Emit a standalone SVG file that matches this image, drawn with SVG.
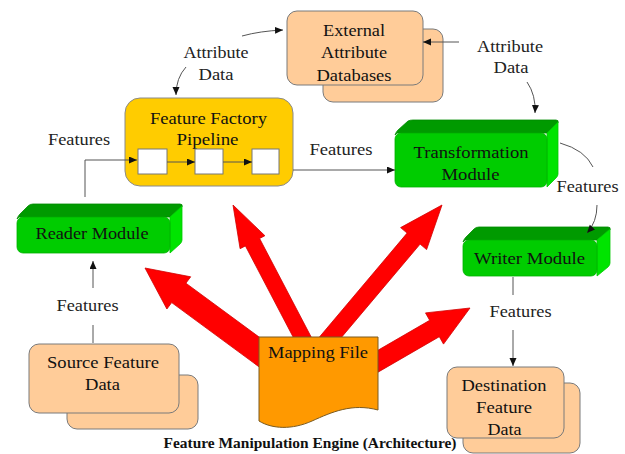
<svg xmlns="http://www.w3.org/2000/svg" width="625" height="454" viewBox="0 0 625 454" font-family="'Liberation Serif', 'Times New Roman', Times, serif">
<style>
.t{font-size:16px;fill:#111;text-anchor:middle}
.l{font-size:16px;fill:#222;text-anchor:middle}
.c{fill:none;stroke:#555;stroke-width:1}
.ca{fill:none;stroke:#555;stroke-width:1;marker-end:url(#ah)}
.red{fill:#FF0000;stroke:#D00000;stroke-width:0.8;stroke-linejoin:miter}
.peach{fill:#FFCC99;stroke:#7a7a7a;stroke-width:1}
.front{fill:#00CC00;stroke:#00B000;stroke-width:0.8}
.top{fill:#009A00;stroke:#008A00;stroke-width:0.8}
.side{fill:#00E400;stroke:#00C800;stroke-width:0.8}
.small{fill:#fff;stroke:#777;stroke-width:1}
</style>
<defs>
<marker id="ah" markerUnits="userSpaceOnUse" markerWidth="9" markerHeight="8" refX="8" refY="3.5" orient="auto">
<path d="M0,0 L8,3.5 L0,7 z" fill="#111"/>
</marker>
</defs>
<rect width="625" height="454" fill="#fff"/>

<g id="mapping-arrows">
<polygon class="red" points="277.1,350.3 185.9,283.2 190.7,276.8 145,268 166.9,309 171.7,302.6 262.9,369.7"/>
<polygon class="red" points="317.1,348.3 259.6,238.5 264.9,235.7 233,205 240.1,248.7 245.4,245.9 302.9,355.7"/>
<polygon class="red" points="329.5,351.5 420.1,244.1 426.6,249.6 442,205 400.6,227.6 407.1,233.1 316.5,340.5"/>
<polygon class="red" points="372.8,375.2 439.3,336.7 443.5,344.1 470,308 425.5,312.9 429.7,320.3 363.2,358.8"/>
</g>

<g id="external-attribute-databases">
<rect class="peach" x="323" y="29" width="120" height="73" rx="10"/>
<rect class="peach" x="287" y="11" width="136" height="74" rx="10"/>
<text class="t" x="354" y="36" textLength="62" lengthAdjust="spacingAndGlyphs">External</text>
<text class="t" x="354" y="58" textLength="66" lengthAdjust="spacingAndGlyphs">Attribute</text>
<text class="t" x="354" y="81" textLength="75" lengthAdjust="spacingAndGlyphs">Databases</text>
</g>

<g id="label-attr-left">
<text class="l" x="216" y="58" textLength="65" lengthAdjust="spacingAndGlyphs">Attribute</text>
<text class="l" x="216" y="80" textLength="35" lengthAdjust="spacingAndGlyphs">Data</text>
</g>
<g id="label-attr-right">
<text class="l" x="510" y="52" textLength="66" lengthAdjust="spacingAndGlyphs">Attribute</text>
<text class="l" x="511" y="73" textLength="35" lengthAdjust="spacingAndGlyphs">Data</text>
</g>

<g id="feature-factory-pipeline">
<rect x="125" y="98" width="168" height="88" rx="15" fill="#FFCC00" stroke="#8a8a8a" stroke-width="1"/>
<text class="t" x="208.5" y="124" textLength="117" lengthAdjust="spacingAndGlyphs">Feature Factory</text>
<text class="t" x="207.5" y="145" textLength="62" lengthAdjust="spacingAndGlyphs">Pipeline</text>
<rect class="small" x="138" y="149" width="29" height="25"/>
<rect class="small" x="195" y="149" width="28" height="25"/>
<rect class="small" x="252" y="149" width="27" height="25"/>
</g>

<g id="label-features-1"><text class="l" x="79" y="145" textLength="62" lengthAdjust="spacingAndGlyphs">Features</text></g>
<g id="label-features-2"><text class="l" x="341" y="155" textLength="63" lengthAdjust="spacingAndGlyphs">Features</text></g>
<g id="label-features-3"><text class="l" x="587.5" y="192" textLength="62" lengthAdjust="spacingAndGlyphs">Features</text></g>
<g id="label-features-4"><text class="l" x="520.5" y="317" textLength="62" lengthAdjust="spacingAndGlyphs">Features</text></g>
<g id="label-features-5"><text class="l" x="87.5" y="311" textLength="62" lengthAdjust="spacingAndGlyphs">Features</text></g>

<g id="transformation-module">
<path class="top" d="M395,135 Q396,132 398,130 L408,121 Q410,120 413,120 L556,120 Q559,120 558,123 L547,133 L397,133 Z"/>
<path class="side" d="M547,133 L558,122 L558,174 Q558,176 556,178 L547,187 Z"/>
<rect class="front" x="395" y="133" width="152" height="54" rx="6"/>
<text class="t" x="471" y="158" textLength="115" lengthAdjust="spacingAndGlyphs">Transformation</text>
<text class="t" x="470.5" y="180" textLength="58" lengthAdjust="spacingAndGlyphs">Module</text>
</g>

<g id="reader-module">
<path class="top" d="M17,219 Q18,216 20,214 L28,206 Q30,204 33,204 L180,204 Q183,204 182,207 L170,217 L19,217 Z"/>
<path class="side" d="M170,217 L182,206 L182,240 Q182,242 180,244 L170,253 Z"/>
<rect class="front" x="17" y="217" width="153" height="36" rx="6"/>
<text class="t" x="92" y="239" textLength="113" lengthAdjust="spacingAndGlyphs">Reader Module</text>
</g>

<g id="writer-module">
<path class="top" d="M463,242 Q464,239 466,237 L474,229 Q476,227 479,227 L608,227 Q611,227 610,230 L597,240 L465,240 Z"/>
<path class="side" d="M597,240 L610,229 L610,263 Q610,265 608,267 L597,276 Z"/>
<rect class="front" x="463" y="240" width="134" height="36" rx="6"/>
<text class="t" x="529.5" y="264" textLength="111" lengthAdjust="spacingAndGlyphs">Writer Module</text>
</g>

<g id="source-feature-data">
<rect class="peach" x="67" y="375" width="131" height="54" rx="10"/>
<rect class="peach" x="29" y="344" width="150" height="69" rx="10"/>
<text class="t" x="103" y="368" textLength="112" lengthAdjust="spacingAndGlyphs">Source Feature</text>
<text class="t" x="102.5" y="390" textLength="35" lengthAdjust="spacingAndGlyphs">Data</text>
</g>

<g id="destination-feature-data">
<rect class="peach" x="463" y="383" width="117" height="70" rx="10"/>
<rect class="peach" x="447" y="367" width="117" height="71" rx="10"/>
<text class="t" x="504" y="391" textLength="85" lengthAdjust="spacingAndGlyphs">Destination</text>
<text class="t" x="504" y="413" textLength="56" lengthAdjust="spacingAndGlyphs">Feature</text>
<text class="t" x="504.5" y="435" textLength="34" lengthAdjust="spacingAndGlyphs">Data</text>
</g>

<g id="mapping-file">
<path d="M259,337 H378 V410 C352,403 332,412 312,421 C292,430 272,429 259,421 Z" fill="#FF9900" stroke="#7a5a20" stroke-width="1"/>
<text class="t" x="318" y="358" textLength="100" lengthAdjust="spacingAndGlyphs">Mapping File</text>
</g>

<g id="connectors">
<path class="ca" d="M85,197 V160 H137"/>
<path class="ca" d="M167,162 H195"/>
<path class="ca" d="M223,162 H252"/>
<path class="ca" d="M293,170 H395"/>
<path class="ca" d="M186,67 Q176,78 176,95"/>
<path class="ca" d="M242,36 Q260,31 283,30"/>
<path class="ca" d="M459,42 H423"/>
<path class="ca" d="M527,82 Q536,95 535,113"/>
<path class="c" d="M560,143 Q585,150 593,167"/>
<path class="ca" d="M597,205 Q597,222 587,233"/>
<path class="c" d="M93,343 V325"/>
<path class="ca" d="M93,288 V261"/>
<path class="c" d="M513,277 V295"/>
<path class="ca" d="M513,330 V366"/>
</g>

<g id="caption">
<text class="t" x="310" y="448" textLength="293" lengthAdjust="spacingAndGlyphs" style="font-size:15px;font-weight:bold">Feature Manipulation Engine (Architecture)</text>
</g>
</svg>
